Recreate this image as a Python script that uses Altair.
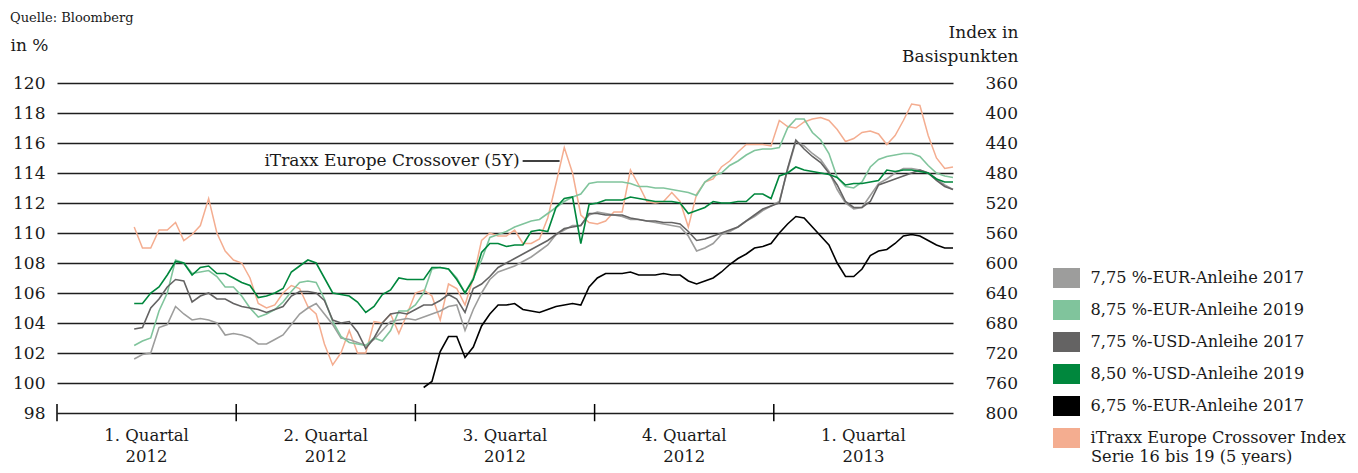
import altair as alt
import pandas as pd

# ---------------- data ----------------
# x positions: trading days since 1 Jan 2012 (65 trading days per quarter)
start_day = 28
step_days = 3
black_start_day = 133

quarter_bounds = [0, 65, 130, 195, 260]
quarter_mids = [32.5, 97.5, 162.5, 227.5, 292.5]
quarter_labels = ["1. Quartal\n2012", "2. Quartal\n2012", "3. Quartal\n2012",
                  "4. Quartal\n2012", "1. Quartal\n2013"]
left_ticks = [98, 100, 102, 104, 106, 108, 110, 112, 114, 116, 118, 120]
right_ticks = [360, 400, 440, 480, 520, 560, 600, 640, 680, 720, 760, 800]

series_names = ["7,75 %-EUR-Anleihe 2017", "8,75 %-EUR-Anleihe 2019", "7,75 %-USD-Anleihe 2017",
                "8,50 %-USD-Anleihe 2019", "6,75 %-EUR-Anleihe 2017", "iTraxx Europe Crossover Index"]
series_colors = ["#9d9d9c", "#80c49c", "#646363", "#00873d", "#000000", "#f4ad90"]
legend_second_line = "Serie 16 bis 19 (5 years)"
annotation_text = "iTraxx Europe Crossover (5Y)"
source_text = "Quelle: Bloomberg"

eur_2017_775 = [101.6, 101.9, 102.0, 103.7, 103.9, 105.1, 104.6, 104.2, 104.3, 104.2,
                104.0, 103.2, 103.3, 103.2, 103.0, 102.6, 102.6, 102.9, 103.2, 103.9,
                104.6, 105.0, 105.3, 104.6, 103.9, 103.0, 102.9, 102.7, 102.5, 102.9,
                103.5, 104.1, 104.2, 104.3, 104.2, 104.4, 104.6, 104.8, 105.1, 105.2,
                103.5, 104.9, 106.0, 106.9, 107.4, 107.6, 107.8, 108.1, 108.4, 108.8,
                109.2, 109.9, 110.2, 110.5, 110.5, 111.2, 111.4, 111.3, 111.2, 111.1,
                110.9, 110.9, 110.8, 110.7, 110.6, 110.5, 110.4, 109.8, 108.8, 109.0,
                109.3, 109.9, 110.1, 110.4, 110.8, 111.1, 111.5, 111.8, 112.1, 114.2,
                116.1, 115.8, 115.3, 114.9, 114.1, 112.9, 112.0, 111.6, 111.7, 112.5,
                113.3, 113.6, 114.0, 114.3, 114.3, 114.2, 114.0, 113.6, 113.2, 112.9]

eur_2019_875 = [102.5, 102.8, 103.0, 104.8, 106.0, 108.2, 108.0, 107.3, 107.4, 107.5,
                107.1, 106.4, 106.4, 105.8, 105.0, 104.4, 104.6, 104.9, 105.4, 106.1,
                106.7, 106.8, 106.7, 105.6, 104.1, 103.1, 102.7, 102.6, 102.5, 103.0,
                102.8, 103.5, 104.8, 104.8, 105.2, 106.0, 107.6, 107.7, 107.6, 107.0,
                106.0, 107.0, 108.2, 109.7, 109.9, 110.1, 110.4, 110.6, 110.8, 110.9,
                111.3, 111.7, 112.1, 112.4, 112.6, 113.3, 113.4, 113.4, 113.4, 113.4,
                113.3, 113.1, 113.1, 113.0, 113.0, 112.9, 112.8, 112.7, 112.5, 113.4,
                113.8, 114.0, 114.5, 114.8, 115.2, 115.5, 115.6, 115.6, 115.7, 117.0,
                117.6, 117.6, 116.7, 116.2, 115.3, 113.7, 113.1, 113.0, 113.4, 114.4,
                114.9, 115.1, 115.2, 115.3, 115.3, 115.1, 114.5, 114.0, 113.8, 113.7]

usd_2017_775 = [103.6, 103.7, 105.0, 105.6, 106.4, 106.9, 106.8, 105.4, 105.8, 106.0,
                105.6, 105.6, 105.3, 105.1, 105.0, 104.9, 104.7, 104.9, 105.1, 105.8,
                106.1, 106.1, 106.0, 105.5, 104.2, 104.0, 104.1, 103.4, 102.3, 103.0,
                104.0, 104.6, 104.7, 104.6, 104.9, 105.2, 105.2, 105.5, 105.9, 105.6,
                104.7, 106.3, 106.6, 107.1, 107.7, 108.0, 108.3, 108.6, 108.9, 109.2,
                109.5, 109.9, 110.3, 110.4, 110.5, 111.3, 111.3, 111.2, 111.2, 111.2,
                111.0, 110.9, 110.8, 110.8, 110.7, 110.7, 110.6, 110.1, 109.5, 109.6,
                109.8, 110.0, 110.2, 110.4, 110.8, 111.2, 111.6, 111.8, 112.0, 114.3,
                116.2, 115.6, 115.1, 114.7, 114.0, 113.2, 112.1, 111.7, 111.7, 112.1,
                113.2, 113.4, 113.6, 113.8, 114.0, 114.2, 114.0, 113.5, 113.1, 112.9]

usd_2019_850 = [105.3, 105.3, 106.0, 106.4, 107.2, 108.1, 108.0, 107.2, 107.7, 107.8,
                107.3, 107.3, 107.0, 106.7, 106.5, 105.7, 105.8, 106.0, 106.3, 107.4,
                107.8, 108.2, 108.0, 107.0, 106.0, 105.9, 105.8, 105.4, 104.7, 105.1,
                105.9, 106.2, 107.0, 106.9, 106.9, 106.9, 107.7, 107.7, 107.6, 106.9,
                106.0, 106.9, 108.7, 109.3, 109.3, 109.1, 109.2, 109.2, 110.1, 110.2,
                110.1, 111.7, 112.3, 112.4, 109.3, 111.9, 112.0, 112.2, 112.2, 112.2,
                112.4, 112.3, 112.2, 112.1, 112.1, 112.1, 112.0, 111.3, 111.5, 111.7,
                112.1, 112.0, 112.0, 112.1, 112.1, 112.6, 112.6, 112.3, 113.8, 114.0,
                114.4, 114.2, 114.1, 114.0, 113.9, 113.7, 113.2, 113.3, 113.3, 113.4,
                113.5, 114.2, 114.1, 114.2, 114.2, 114.1, 114.0, 113.6, 113.4, 113.4]

eur_2017_675 = [99.7, 100.1, 102.1, 103.1, 103.1, 101.7, 102.4, 103.8, 104.6, 105.2,
                105.2, 105.3, 104.9, 104.8, 104.7, 104.9, 105.1, 105.2, 105.3, 105.2,
                106.4, 107.0, 107.3, 107.3, 107.3, 107.4, 107.2, 107.2, 107.2, 107.3,
                107.2, 107.2, 106.8, 106.6, 106.8, 107.0, 107.4, 107.9, 108.3, 108.6,
                109.0, 109.1, 109.3, 110.0, 110.6, 111.1, 111.0, 110.4, 109.8, 109.2,
                108.0, 107.1, 107.1, 107.6, 108.5, 108.8, 108.9, 109.3, 109.8, 109.9,
                109.8, 109.5, 109.2, 109.0, 109.0]

itraxx_bp = [552, 580, 580, 556, 556, 546, 570, 562, 550, 514,
             560, 584, 596, 600, 620, 654, 660, 656, 640, 630,
             634, 658, 668, 708, 736, 720, 690, 720, 720, 678,
             680, 668, 694, 668, 640, 636, 644, 676, 628, 634,
             656, 620, 570, 560, 564, 564, 556, 574, 574, 568,
             540, 494, 446, 480, 536, 546, 548, 544, 532, 532,
             476, 496, 518, 520, 518, 506, 518, 552, 508, 492,
             488, 472, 464, 452, 442, 442, 442, 444, 410, 418,
             420, 412, 408, 406, 410, 422, 438, 434, 426, 424,
             428, 442, 430, 410, 388, 390, 430, 460, 474, 472]

# annotation anchor (trading day, percent) and connector end
annotation_day = 167.8
annotation_level = 114.8
connector_days = [168.9, 182.3]

# ---------------- tables ----------------
bond_series = [
    (series_names[0], start_day, eur_2017_775),
    (series_names[1], start_day, eur_2019_875),
    (series_names[2], start_day, usd_2017_775),
    (series_names[3], start_day, usd_2019_850),
    (series_names[4], black_start_day, eur_2017_675),
]
rows = []
for name, s0, vals in bond_series:
    for i, v in enumerate(vals):
        rows.append({"tag": s0 + step_days * i, "wert": v, "serie": name})
bond_df = pd.DataFrame(rows)
itraxx_df = pd.DataFrame({"tag": [start_day + step_days * i for i in range(len(itraxx_bp))],
                          "bp": itraxx_bp})

FONT = "DejaVu Serif"
TXT = "#1a1a1a"
FS = 17
LFS = 16.2
W, H = 896, 330


def x_scale():
    return alt.Scale(domain=[0, 325], nice=False, zero=False)


def y_left():
    return alt.Scale(domain=[98, 120], nice=False, zero=False)


y_right = alt.Scale(domain=[360, 800], reverse=True, nice=False, zero=False)
color_scale = alt.Scale(domain=series_names, range=series_colors)

RECT = "M-1.35,-1H1.35V1H-1.35Z"

legend_df = pd.DataFrame({"serie": series_names})
legend_layer = alt.Chart(legend_df).mark_point(
    shape=RECT, filled=True, size=400, opacity=0).encode(
    color=alt.Color("serie:N", scale=color_scale,
                    legend=alt.Legend(orient="none", legendX=999.5, legendY=185, title=None,
                                      symbolType=RECT, symbolSize=400, symbolStrokeWidth=0,
                                      symbolOpacity=1, labelFont=FONT, labelFontSize=LFS,
                                      labelColor=TXT, labelOffset=14, rowPadding=12,
                                      padding=0, labelLimit=500)),
)

bonds = alt.Chart(bond_df).mark_line(strokeWidth=1.6).encode(
    x=alt.X("tag:Q", scale=x_scale(),
            axis=alt.Axis(values=quarter_bounds, labels=False, domain=True,
                          domainColor="#000000", domainWidth=1.5, ticks=False, grid=False,
                          title=None)),
    y=alt.Y("wert:Q", scale=y_left(),
            axis=alt.Axis(values=left_ticks, grid=True, gridColor="#1e1e1e", gridWidth=1.3,
                          domain=False, ticks=False, labelPadding=12, labelFont=FONT,
                          labelFontSize=FS, labelColor=TXT, title="in %", titleAngle=0,
                          titleAlign="left", titleBaseline="middle", titleX=-47, titleY=-38,
                          titleFont=FONT, titleFontSize=FS, titleFontWeight="normal",
                          titleColor=TXT)),
    color=alt.Color("serie:N", scale=color_scale, legend=None),
)

tick_df = pd.DataFrame({"tag": quarter_bounds})
tick_rules = alt.Chart(tick_df).mark_rule(color="#000000", strokeWidth=1.5).encode(
    x=alt.X("tag:Q", scale=x_scale(), axis=None),
    y=alt.YDatum(98.6, scale=y_left(), axis=None),
    y2=alt.Y2Datum(97.45),
)

qlab_df = pd.DataFrame({"tag": quarter_mids, "label": quarter_labels})
quarter_text = alt.Chart(qlab_df).mark_text(
    align="center", baseline="top", font=FONT, fontSize=16.5, color=TXT,
    lineBreak="\n", lineHeight=21).encode(
    x=alt.X("tag:Q", scale=x_scale(), axis=None),
    y=alt.value(H + 15),
    text="label:N",
)

ann_df = pd.DataFrame({"tag": [annotation_day], "wert": [annotation_level], "text": [annotation_text]})
ann_text = alt.Chart(ann_df).mark_text(align="right", baseline="middle", font=FONT,
                                       fontSize=FS, color=TXT).encode(
    x=alt.X("tag:Q", scale=x_scale(), axis=None),
    y=alt.Y("wert:Q", scale=y_left(), axis=None),
    text="text:N",
)
conn_df = pd.DataFrame({"von": [connector_days[0]], "bis": [connector_days[1]],
                        "wert": [annotation_level]})
ann_line = alt.Chart(conn_df).mark_rule(color="#000000", strokeWidth=1.3).encode(
    x=alt.X("von:Q", scale=x_scale(), axis=None),
    x2="bis:Q",
    y=alt.Y("wert:Q", scale=y_left(), axis=None),
)

src_df = pd.DataFrame({"t": [source_text]})
source = alt.Chart(src_df).mark_text(align="left", baseline="alphabetic", font=FONT,
                                     fontSize=13, color=TXT).encode(
    x=alt.value(-47), y=alt.value(-61), text="t:N")

leg2_df = pd.DataFrame({"t": [legend_second_line]})
legend_line2 = alt.Chart(leg2_df).mark_text(align="left", baseline="middle", font=FONT,
                                            fontSize=LFS, color=TXT).encode(
    x=alt.value(1034), y=alt.value(374), text="t:N")

itraxx = alt.Chart(itraxx_df).mark_line(color=series_colors[5], strokeWidth=1.5).encode(
    x=alt.X("tag:Q", scale=x_scale(), axis=None),
    y=alt.Y("bp:Q", scale=y_right,
            axis=alt.Axis(orient="right", values=right_ticks, grid=False, domain=False,
                          ticks=False, labelPadding=32, labelFont=FONT, labelFontSize=FS,
                          labelColor=TXT, labelAlign="left",
                          title=["Index in", "Basispunkten"], titleAngle=0, titleAlign="right",
                          titleBaseline="middle", titleX=65, titleY=-51, titleLineHeight=24,
                          titleFont=FONT, titleFontSize=FS, titleFontWeight="normal",
                          titleColor=TXT)),
)

chart = alt.layer(
    legend_layer, itraxx, bonds, tick_rules, quarter_text, ann_line, ann_text, source, legend_line2
).resolve_scale(y="independent").properties(
    width=W, height=H, autosize="none",
    padding={"left": 49, "top": 75, "right": 397, "bottom": 52},
).configure_view(stroke=None)

chart.save("out.html", embed_options={"renderer": "svg", "actions": False})
